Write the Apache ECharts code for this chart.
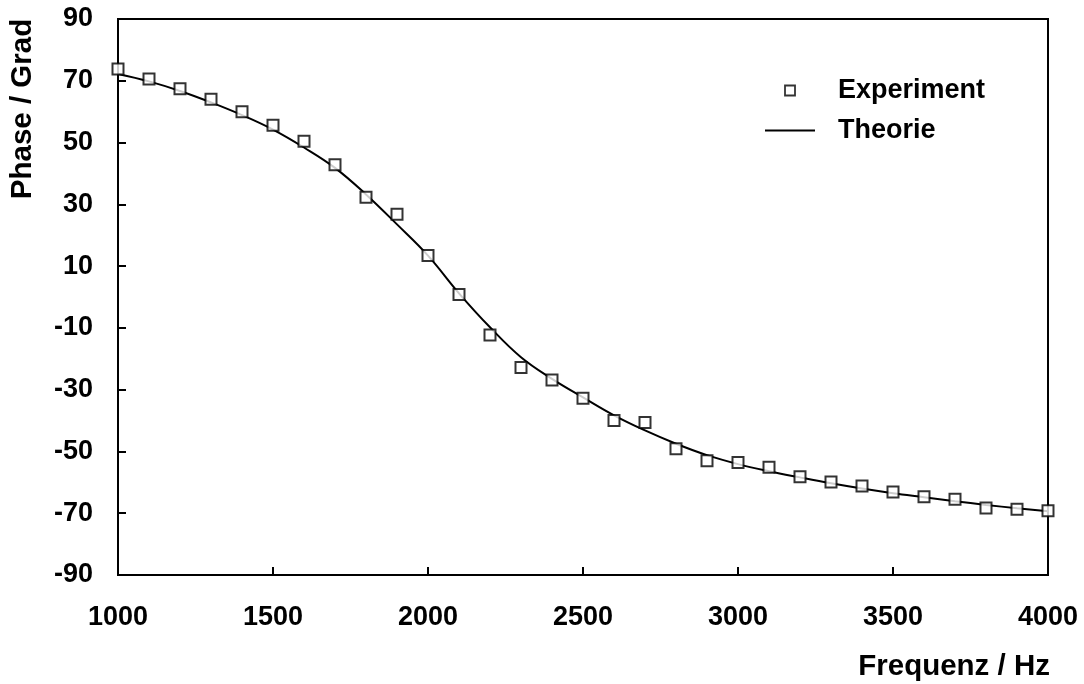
<!DOCTYPE html>
<html>
<head>
<meta charset="utf-8">
<script src="https://cdn.jsdelivr.net/npm/echarts@6/dist/echarts.min.js"></script>
<style>html,body{margin:0;padding:0;background:#fff}#c{width:1084px;height:684px}</style>
</head>
<body>
<div id="c"></div>
<script>
const expFreq = [1000,1100,1200,1300,1400,1500,1600,1700,1800,1900,2000,2100,2200,2300,2400,2500,2600,2700,2800,2900,3000,3100,3200,3300,3400,3500,3600,3700,3800,3900,4000];
const expPhase = [73.8,70.6,67.4,64.0,60.0,55.6,50.4,42.8,32.3,26.8,13.4,0.8,-12.3,-22.8,-26.9,-32.8,-40.0,-40.6,-49.1,-53.0,-53.6,-55.1,-58.2,-59.9,-61.2,-63.1,-64.7,-65.5,-68.3,-68.7,-69.2];
const theoFreq = [1000,1100,1200,1300,1400,1500,1600,1700,1800,1900,2000,2100,2200,2300,2400,2500,2600,2700,2800,2900,3000,3100,3200,3300,3400,3500,3600,3700,3800,3900,4000];
const theoPhase = [72.2,69.8,66.7,63.0,58.9,54.2,48.4,41.8,33.2,23.5,13.4,1.2,-9.8,-19.5,-26.5,-32.5,-38.3,-43.2,-47.5,-51.2,-54.1,-56.4,-58.4,-60.3,-62.0,-63.5,-64.8,-66.1,-67.3,-68.4,-69.4];
const yTicks = [-90,-70,-50,-30,-10,10,30,50,70,90];
const xTicks = [1000,1500,2000,2500,3000,3500,4000];
const xTitle = 'Frequenz / Hz';
const yTitle = 'Phase / Grad';

const FONT = '"Liberation Sans", Arial, sans-serif';
const chart = echarts.init(document.getElementById('c'), null, {renderer:'canvas'});
chart.setOption({
  animation: false,
  backgroundColor: '#fff',
  grid: {left:118, right:36, top:19, bottom:109, show:true, borderColor:'#000', borderWidth:2, containLabel:false},
  legend: {
    orient:'vertical', left:765, top:77, padding:0, itemWidth:50, itemHeight:10, itemGap:13,
    symbolKeepAspect:true,
    textStyle:{fontFamily:FONT, fontWeight:'bold', fontSize:27, color:'#000', padding:[0,0,0,18]},
    data:[
      {name:'Experiment', icon:'path://M0,0 L10,0 L10,10 L0,10 Z', itemStyle:{color:'#fff', borderColor:'#000', borderWidth:1.8}},
      {name:'Theorie', icon:'path://M0,0 L50,0 L50,2 L0,2 Z', itemStyle:{color:'#000', borderWidth:0}}
    ]
  },
  xAxis: {
    type:'value', min:1000, max:4000, interval:500,
    axisLine:{show:true, onZero:false, lineStyle:{color:'#000', width:2}},
    axisTick:{show:true, inside:true, length:8, lineStyle:{color:'#000', width:2}},
    axisLabel:{margin:29, fontFamily:FONT, fontWeight:'bold', fontSize:27, color:'#000',
      formatter: v => xTicks.includes(v) ? String(v) : ''},
    splitLine:{show:false}
  },
  yAxis: {
    type:'value', min:-90, max:90, interval:20,
    axisLine:{show:true, onZero:false, lineStyle:{color:'#000', width:2}},
    axisTick:{show:true, inside:true, length:8, lineStyle:{color:'#000', width:2}},
    axisLabel:{margin:25, fontFamily:FONT, fontWeight:'bold', fontSize:27, color:'#000',
      formatter: v => yTicks.includes(v) ? String(v) : ''},
    splitLine:{show:false}
  },
  graphic: [
    {type:'text', x:1050, y:667, style:{text:xTitle, font:'bold 29.5px '+FONT, fill:'#000', align:'right', verticalAlign:'middle'}},
    {type:'text', x:23, y:109, rotation:Math.PI/2, style:{text:yTitle, font:'bold 29.5px '+FONT, fill:'#000', align:'center', verticalAlign:'middle'}}
  ],
  series: [
    {name:'Theorie', type:'line', data: theoFreq.map((f,i)=>[f,theoPhase[i]]), smooth:0.4, symbol:'none',
      lineStyle:{color:'#000', width:2}, itemStyle:{color:'#000'}, z:2},
    {name:'Experiment', type:'scatter', data: expFreq.map((f,i)=>[f,expPhase[i]]), symbol:'rect', symbolSize:11,
      itemStyle:{color:'#fff', borderColor:'#000', borderWidth:2}, z:3}
  ]
});
</script>
</body>
</html>
